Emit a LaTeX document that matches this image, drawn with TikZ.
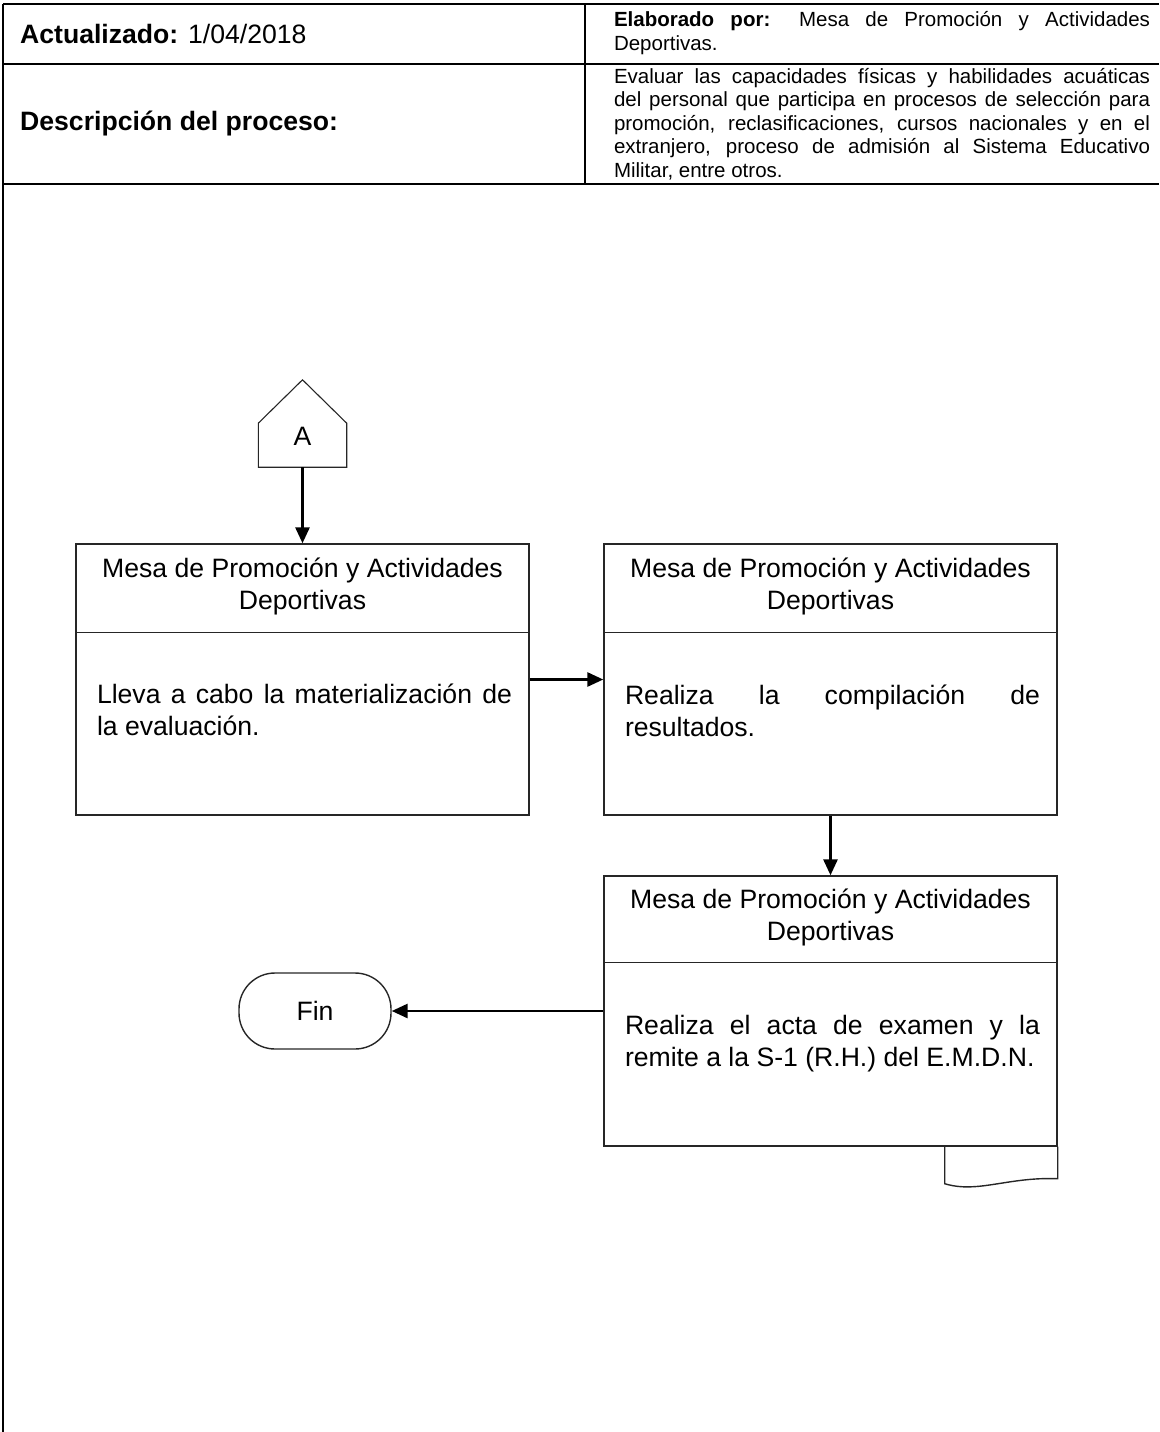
\documentclass[tikz,border=0pt]{standalone}
\usepackage{fontspec}
\setmainfont{Liberation Sans}
\usetikzlibrary{arrows.meta,calc}
\begin{document}
\begin{tikzpicture}[x=1pt,y=-1pt,
  frame/.style={line width=1.8pt, draw=black},
  boxline/.style={line width=1.4pt, draw=black!85},
  flowbox/.style={boxline, minimum width=453pt, minimum height=271pt, inner sep=0pt},
  flowfont/.style={font=\fontsize{26.6}{32}\selectfont},
  bodytext/.style={flowfont, text width=415pt, align=justify, inner sep=0pt},
  headtext/.style={flowfont, align=center, inner sep=0pt},
  smalltext/.style={font=\fontsize{20.5}{23.4}\selectfont, text width=536pt, align=justify, inner sep=0pt},
  arrowline/.style={line width=2.8pt, draw=black, -{Triangle[length=16pt,width=14pt]}}
]
\useasboundingbox (0,0) rectangle (1159,1432);
\hyphenpenalty=10000
\tolerance=10000

% header table
\draw[frame] (3,4) -- (1159,4);
\draw[frame] (3,64) -- (1159,64);
\draw[frame] (3,184) -- (1159,184);
\draw[frame] (585,4) -- (585,184);
\draw[frame] (3,4) -- (3,1432);

\node[flowfont, anchor=west, inner sep=0pt] (upd) at (20,34) {\textbf{Actualizado:} 1/04/2018};
\node[flowfont, anchor=west, inner sep=0pt] (desc) at (20,124) {\textbf{Descripción del proceso:}};
\node[smalltext] (elab) at (882,33) {\hyphenpenalty=10000\textbf{Elaborado por:} Mesa de Promoción y Actividades\linebreak Deportivas.};
\node[smalltext] (evaltxt) at (882,124) {\hyphenpenalty=10000 Evaluar las capacidades físicas y habilidades acuáticas\linebreak del personal que participa en procesos de selección para\linebreak promoción, reclasificaciones, cursos nacionales y en el\linebreak extranjero, proceso de admisión al Sistema Educativo\linebreak Militar, entre otros.};

% connector A
\node[minimum width=88pt, minimum height=87pt, inner sep=0pt] (conA) at (302.5,423.5) {};
\draw[boxline, line width=1.1pt] (conA.south west) -- ($(conA.south west)+(0,-44)$) -- (conA.north) -- ($(conA.south east)+(0,-44)$) -- (conA.south east) -- cycle;
\node[flowfont] (Alabel) at ($(conA.south)+(0,-31)$) {A};

% box 1
\node[flowbox] (b1) at (302.5,679.5) {};
\draw[boxline] ($(b1.north west)+(0,89)$) -- ($(b1.north east)+(0,89)$);
\node[headtext] (b1h) at ($(b1.north)+(0,43)$) {Mesa de Promoción y Actividades\\Deportivas};
\node[bodytext] (b1t) at ($(b1.north)+(2,167)$) {\hyphenpenalty=10000 Lleva a cabo la materialización de\linebreak la evaluación.};

% box 2
\node[flowbox] (b2) at (830.5,679.5) {};
\draw[boxline] ($(b2.north west)+(0,89)$) -- ($(b2.north east)+(0,89)$);
\node[headtext] (b2h) at ($(b2.north)+(0,43)$) {Mesa de Promoción y Actividades\\Deportivas};
\node[bodytext] (b2t) at ($(b2.north)+(2,168)$) {\hyphenpenalty=10000 Realiza la compilación de\linebreak resultados.};

% box 3 (document)
\node[flowbox, minimum height=270pt] (b3) at (830.5,1011) {};
\draw[boxline] ($(b3.north west)+(0,87)$) -- ($(b3.north east)+(0,87)$);
\node[headtext] (b3h) at ($(b3.north)+(0,42)$) {Mesa de Promoción y Actividades\\Deportivas};
\node[bodytext] (b3t) at ($(b3.north)+(2,168)$) {\hyphenpenalty=10000 Realiza el acta de examen y la\linebreak remite a la S-1 (R.H.) del E.M.D.N.};
\draw[boxline] (b3.south east) -- ($(b3.south east)+(0,32)$) .. controls ($(b3.south east)+(-50,30)$) and ($(b3.south east)+(-80,47)$) .. ($(b3.south east)+(-113,37)$) -- ($(b3.south east)+(-113,0)$);

% Fin
\node[boxline, draw, rounded corners=36pt, minimum width=152pt, minimum height=76pt, flowfont] (fin) at (315,1011) {Fin};

% connectors
\draw[arrowline] (conA.south) -- (b1.north);
\draw[arrowline] (b1.east) -- (b2.west);
\draw[arrowline] (b2.south) -- (b3.north);
\draw[arrowline] (b3.west) -- (fin.east);
\end{tikzpicture}
\end{document}
